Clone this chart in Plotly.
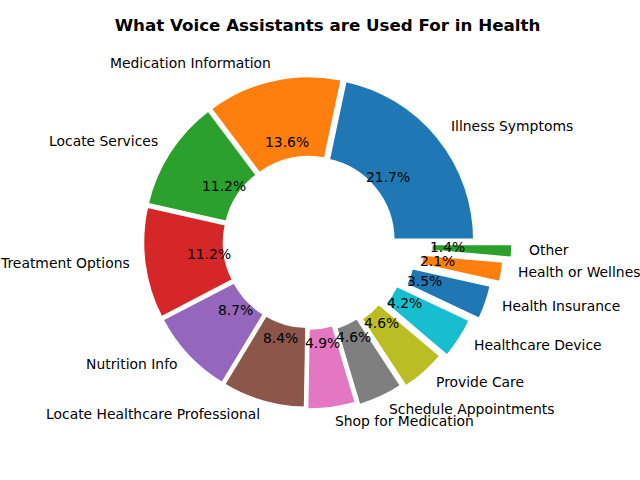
import math
import plotly.graph_objects as go

categories = ["Illness Symptoms", "Medication Information", "Locate Services", "Treatment Options",
              "Nutrition Info", "Locate Healthcare Professional", "Shop for Medication",
              "Schedule Appointments", "Provide Care", "Healthcare Device", "Health Insurance",
              "Health or Wellness", "Other"]
values = [21.7, 13.6, 11.2, 11.2, 8.7, 8.4, 4.9, 4.6, 4.6, 4.2, 3.5, 2.1, 1.4]
explode = [0.02, 0.02, 0.02, 0.02, 0.02, 0.02, 0.03, 0.05, 0.07, 0.1, 0.15, 0.2, 0.25]
colors = ["#1f77b4", "#ff7f0e", "#2ca02c", "#d62728", "#9467bd", "#8c564b", "#e377c2",
          "#7f7f7f", "#bcbd22", "#17becf", "#1f77b4", "#ff7f0e", "#2ca02c"]

W, H = 640, 480
cx, cy, r = 309.0, 242.0, 163.0
maxpull = max(explode)
half = r * (1 + maxpull)
dom_x = [(cx - half) / W, (cx + half) / W]
dom_y = [(H - cy - half) / H, (H - cy + half) / H]

total = sum(values)
# plotly (counterclockwise) ends the first slice at `rotation`; make it start at 3 o'clock
rotation = 90 - values[0] / total * 360

fig = go.Figure(go.Pie(
    labels=categories, values=values, sort=False, direction="counterclockwise",
    rotation=rotation, hole=0.5, pull=explode, textinfo="none", hoverinfo="label+percent",
    marker=dict(colors=colors, line=dict(color="white", width=3)),
    domain=dict(x=dom_x, y=dom_y), showlegend=False,
))

ann = []
start = 0.0
font = dict(family="DejaVu Sans", size=13.9, color="black")
lcx, lcy = cx + 1, cy - 2  # text baseline centre tweak
for lab, v, e in zip(categories, values, explode):
    frac = v / total
    mid = (start + frac / 2) * 2 * math.pi
    start += frac
    c, s = math.cos(mid), math.sin(mid)
    R = (1.1 + e) * r - 1
    ann.append(dict(x=(lcx + R * c) / W, y=(H - lcy + R * s) / H, xref="paper", yref="paper",
                    text=lab, showarrow=False, xanchor="left" if c > 0 else "right",
                    yanchor="middle", font=font, borderpad=0, borderwidth=0))
    Rp = (0.6 + e) * r
    ann.append(dict(x=(cx + Rp * c) / W, y=(H - cy + 1 + Rp * s) / H, xref="paper", yref="paper",
                    text=f"{frac * 100:.1f}%", showarrow=False, xanchor="center",
                    yanchor="middle", font=font, borderpad=0, borderwidth=0))

fig.update_layout(
    width=W, height=H, margin=dict(l=0, r=0, t=0, b=0),
    paper_bgcolor="white", plot_bgcolor="white",
    title=dict(text="<b>What Voice Assistants are Used For in Health</b>", x=327.5 / W, xanchor="center",
               y=1 - 25 / H, yanchor="middle", font=dict(family="DejaVu Sans", size=16.7, color="black")),
    annotations=ann,
)
fig.write_html("out.html", config={"displayModeBar": False},
               post_script="document.body.style.margin='0';document.body.style.overflow='hidden';")
